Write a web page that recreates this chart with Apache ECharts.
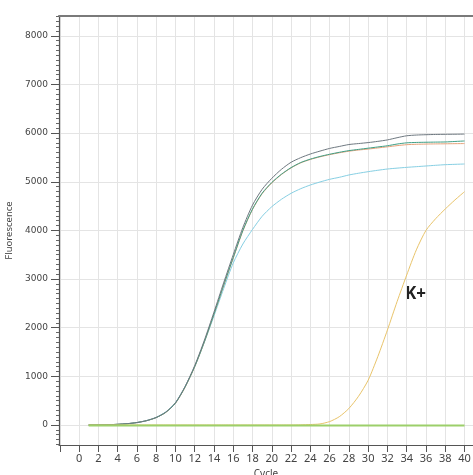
<!DOCTYPE html>
<html>
<head>
<meta charset="utf-8">
<script src="https://cdn.jsdelivr.net/npm/echarts@6/dist/echarts.min.js"></script>
<style>html,body{margin:0;padding:0;background:#fff}#c{width:473px;height:475px}</style>
</head>
<body>
<div id="c"></div>
<script>
const cycles = [1,2,3,4,5,6,7,8,9,10,11,12,13,14,15,16,17,18,19,20,21,22,23,24,25,26,27,28,29,30,31,32,33,34,35,36,37,38,39,40];
const sampleGray = [0,2,6,14,27,50,90,155,265,455,790,1220,1740,2320,2920,3500,4060,4520,4845,5070,5255,5400,5495,5570,5630,5685,5725,5765,5785,5805,5830,5860,5905,5945,5960,5967,5972,5975,5977,5980];
const sampleGreen = [0,2,6,14,27,50,88,152,260,448,780,1200,1710,2280,2870,3440,4000,4440,4765,4985,5155,5290,5395,5465,5520,5565,5605,5640,5665,5690,5715,5740,5775,5800,5808,5812,5815,5818,5828,5838];
const sampleOrange = [0,2,6,14,27,50,88,152,258,445,775,1195,1705,2275,2860,3430,3990,4430,4755,4975,5148,5285,5388,5458,5512,5557,5595,5628,5652,5672,5695,5718,5742,5762,5770,5775,5778,5780,5783,5785];
const sampleBlue = [0,2,6,14,27,52,92,158,270,460,790,1200,1700,2240,2800,3330,3720,4020,4290,4487,4639,4762,4857,4933,4995,5050,5091,5139,5175,5207,5236,5262,5280,5296,5310,5324,5338,5351,5358,5365];
const kPlus = [0,0,0,0,0,0,0,0,0,0,0,0,0,0,0,0,0,0,0,0,0,0,3,10,22,70,170,340,590,920,1405,1953,2535,3083,3600,4000,4240,4440,4625,4796];
const negative = [-10,-10,-10,-10,-10,-10,-10,-10,-10,-10,-10,-10,-10,-10,-10,-10,-10,-10,-10,-10,-10,-10,-10,-10,-10,-10,-10,-10,-10,-10,-10,-10,-10,-10,-10,-10,-10,-10,-10,-10];
const xTickValues = [-2,0,2,4,6,8,10,12,14,16,18,20,22,24,26,28,30,32,34,36,38,40];
const xLabelValues = [0,2,4,6,8,10,12,14,16,18,20,22,24,26,28,30,32,34,36,38,40];
const yTickValues = [0,1000,2000,3000,4000,5000,6000,7000,8000];
const yMinorValues = [-400,-300,-200,-100,100,200,300,400,500,600,700,800,900,1100,1200,1300,1400,1500,1600,1700,1800,1900,2100,2200,2300,2400,2500,2600,2700,2800,2900,3100,3200,3300,3400,3500,3600,3700,3800,3900,4100,4200,4300,4400,4500,4600,4700,4800,4900,5100,5200,5300,5400,5500,5600,5700,5800,5900,6100,6200,6300,6400,6500,6600,6700,6800,6900,7100,7200,7300,7400,7500,7600,7700,7800,7900,8100,8200,8300,8400];

const pairs = arr => cycles.map((c, i) => [c, arr[i]]);
const seriesDefs = [
  {name:'S4', data: sampleBlue, color:'#86cfe3', w:1},
  {name:'S3', data: sampleOrange, color:'#e6a27a', w:1},
  {name:'S2', data: sampleGreen, color:'#3f9f86', w:1},
  {name:'S1', data: sampleGray, color:'#6e7880', w:1},
  {name:'K+', data: kPlus, color:'#e9c46a', w:1},
  {name:'NTC', data: negative, color:'#9ccf6a', w:2}
];

const chart = echarts.init(document.getElementById('c'), null, {renderer:'canvas'});
const yMin = -411, yMax = 8407, xMin = -2.08, xMax = 40.88;
chart.setOption({
  animation: false,
  backgroundColor: '#fff',
  grid: {left: 59, right: 0, top: 16, bottom: 30, outerBoundsMode: 'none', containLabel: false},
  xAxis: [{
    type: 'value', min: xMin, max: xMax, position: 'bottom',
    name: 'Cycle', nameLocation: 'middle', nameGap: 21,
    nameTextStyle: {fontFamily: 'Noto Sans', fontSize: 10, color: '#444'},
    axisLine: {show: true, onZero: false, lineStyle: {color: '#555', width: 1.2}},
    axisTick: {show: true, length: 7, customValues: xTickValues, lineStyle: {color: '#555', width: 1}},
    axisLabel: {customValues: xLabelValues, margin: 8, fontFamily: 'Noto Sans', fontSize: 11, color: '#444', formatter: v => String(v)},
    splitLine: {show: true, lineStyle: {color: '#e4e4e4', width: 1}}
  }, {
    type: 'value', min: xMin, max: xMax, position: 'top',
    axisLine: {show: true, onZero: false, lineStyle: {color: '#7a7a7a', width: 2}},
    axisTick: {show: false}, axisLabel: {show: false}, splitLine: {show: false}
  }],
  yAxis: [{
    type: 'value', min: yMin, max: yMax, position: 'left',
    name: 'Fluorescence', nameLocation: 'middle', nameGap: 38,
    nameTextStyle: {fontFamily: 'Noto Sans', fontSize: 9.5, color: '#444'},
    axisLine: {show: true, onZero: false, lineStyle: {color: '#555', width: 1.2}},
    axisTick: {show: true, length: 8, customValues: yTickValues, lineStyle: {color: '#555', width: 1}},
    axisLabel: {customValues: yTickValues, margin: 11, fontFamily: 'DejaVu Sans', fontSize: 9, color: '#444', formatter: v => String(v)},
    splitLine: {show: true, lineStyle: {color: '#e4e4e4', width: 1}}
  }, {
    type: 'value', min: yMin, max: yMax, position: 'left', offset: 0,
    axisLine: {show: false, onZero: false},
    axisTick: {show: true, length: 3, customValues: yMinorValues, lineStyle: {color: '#666', width: 1}},
    axisLabel: {show: false}, splitLine: {show: false}
  }],
  series: seriesDefs.map(s => ({
    name: s.name, type: 'line', xAxisIndex: 0, yAxisIndex: 0,
    data: pairs(s.data), showSymbol: false, symbol: 'none', smooth: 0.25,
    lineStyle: {color: s.color, width: s.w}, itemStyle: {color: s.color}
  })),
  graphic: [{
    type: 'text', left: 405, top: 286,
    style: {text: 'K+', font: 'bold 17px "Noto Sans"', fill: '#222'}
  }]
});
</script>
</body>
</html>
